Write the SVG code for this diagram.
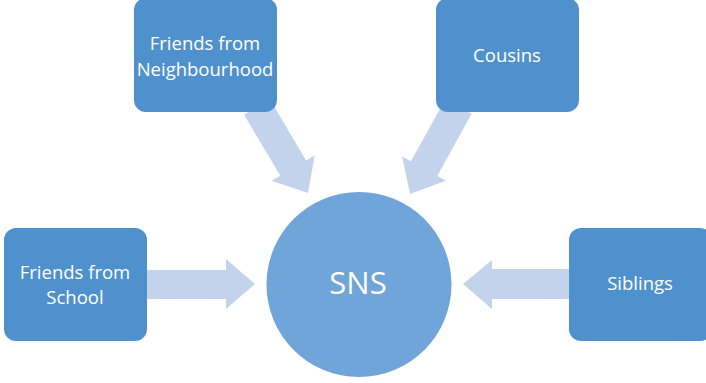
<svg xmlns="http://www.w3.org/2000/svg" width="706" height="383" viewBox="0 0 706 383">
<style>
.box{fill:#4F91CD;}
.arr{fill:#C3D3EC;}
.lbl{fill:#FFFFFF;font-family:"Open Sans","Noto Sans",sans-serif;font-size:18.5px;text-anchor:middle;}
.big{font-size:31px;}
</style>
<rect width="706" height="383" fill="#FFFFFF"/>
<g id="connectors">
<polygon class="arr" points="147,270 226,270 226,259 255,284 226,309 226,299 147,299"/>
<polygon class="arr" points="569,269 492,269 492,260 463,284 492,309 492,299 569,299"/>
<g transform="translate(308,193) rotate(59.3)">
<polygon class="arr" points="-100,-15 -29,-15 -29,-25 0,0 -29,25 -29,15 -100,15"/>
</g>
<g transform="translate(410,194) rotate(119)">
<polygon class="arr" points="-100,-15 -29,-15 -29,-25 0,0 -29,25 -29,15 -100,15"/>
</g>
</g>
<g id="node-neighbourhood">
<rect class="box" x="134" y="-2" width="143" height="114" rx="12"/>
<text class="lbl" x="205" y="50">Friends from</text>
<text class="lbl" x="205" y="76">Neighbourhood</text>
</g>
<g id="node-cousins">
<rect class="box" x="436" y="-2" width="143" height="114" rx="12"/>
<text class="lbl" x="507" y="62">Cousins</text>
</g>
<g id="node-school">
<rect class="box" x="4" y="228" width="143" height="113" rx="12"/>
<text class="lbl" x="75" y="279">Friends from</text>
<text class="lbl" x="75" y="304">School</text>
</g>
<g id="node-siblings">
<rect class="box" x="569" y="228" width="143" height="113" rx="12"/>
<text class="lbl" x="640" y="290">Siblings</text>
</g>
<g id="node-sns">
<circle cx="359" cy="284.5" r="92.5" fill="#6FA5D8"/>
<text class="lbl big" x="358" y="294">SNS</text>
</g>
</svg>
